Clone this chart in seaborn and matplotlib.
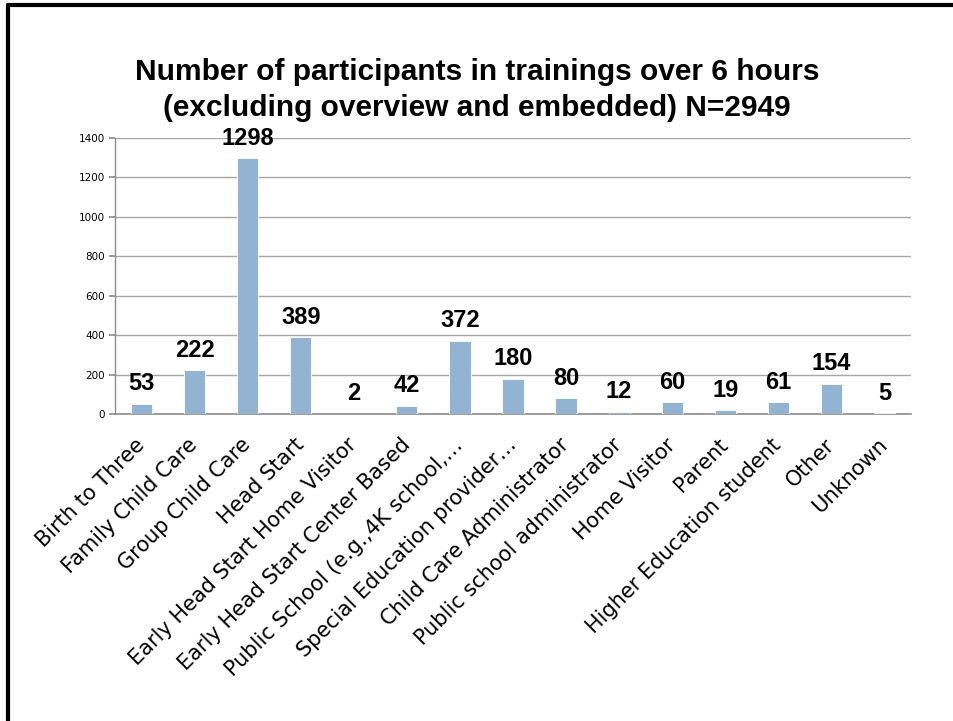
import matplotlib
matplotlib.use("Agg")
import matplotlib.pyplot as plt
import seaborn as sns
import pandas as pd
from matplotlib.lines import Line2D

categories = ["Birth to Three", "Family Child Care", "Group Child Care", "Head Start",
              "Early Head Start Home Visitor", "Early Head Start Center Based",
              "Public School (e.g.,4K school,\u2026", "Special Education provider\u2026",
              "Child Care Administrator", "Public school administrator", "Home Visitor",
              "Parent", "Higher Education student", "Other", "Unknown"]
values = [53, 222, 1298, 389, 2, 42, 372, 180, 80, 12, 60, 19, 61, 154, 5]
yticks = [0, 200, 400, 600, 800, 1000, 1200, 1400]
title = "Number of participants in trainings over 6 hours\n(excluding overview and embedded) N=2949"

df = pd.DataFrame({"category": categories, "value": values})

sns.set_theme(style="white")
plt.rcParams['font.family'] = ['Liberation Sans', 'DejaVu Sans']
plt.rcParams['text.color'] = 'black'
plt.rcParams['xtick.color'] = 'black'
plt.rcParams['ytick.color'] = 'black'

fig = plt.figure(figsize=(9.54, 7.21), dpi=100)
ax = fig.add_axes([115/954, 1-414/721, (911-115)/954, (414-138)/721])

sns.barplot(data=df, x="category", y="value", color="#93B3D3", saturation=1,
            width=0.4, ax=ax, edgecolor="white", linewidth=0.6, zorder=3)

ax.set_ylim(0, 1400)
ax.set_yticks(yticks)
ax.set_xlim(-0.5, len(categories) - 0.5)
ax.yaxis.grid(True, color="#A6A6A6", linewidth=1.0, zorder=0)
ax.set_axisbelow(True)
for s in ["top", "right"]:
    ax.spines[s].set_visible(False)
ax.spines["left"].set_color("#8C8C8C")
ax.spines["bottom"].set_color("#8C8C8C")
ax.spines["left"].set_linewidth(1.0)
ax.spines["bottom"].set_linewidth(1.2)
ax.set_xlabel("")
ax.set_ylabel("")
ax.tick_params(axis="y", labelsize=7.5, length=4, color="#8C8C8C", labelcolor="black",
               pad=3, left=True)
ax.tick_params(axis="x", length=0, pad=20, labelcolor="black")
for lab in ax.get_yticklabels():
    lab.set_fontfamily(['DejaVu Sans'])
ax.set_xticks(range(len(categories)))
ax.set_xticklabels(categories, rotation=45, ha="right", va="center",
                   rotation_mode="anchor", fontsize=15, family=['DejaVu Sans'])

for c in ax.containers:
    ax.bar_label(c, labels=[str(v) for v in values], padding=6, fontsize=17,
                 fontweight="bold", color="black",
                 family=['Liberation Sans', 'DejaVu Sans'])

fig.text(0.5, 1-90/721, title, ha="center", va="center", fontsize=21.5,
         fontweight="bold", family=['Liberation Sans', 'DejaVu Sans'],
         linespacing=1.32, color="black")

fig.add_artist(Line2D([8/954, 8/954], [0, 1-5/721], color="black", linewidth=3,
                      transform=fig.transFigure))
fig.add_artist(Line2D([8/954, 1], [1-5/721, 1-5/721], color="black", linewidth=3,
                      transform=fig.transFigure))

fig.savefig("out.png", dpi=100)
